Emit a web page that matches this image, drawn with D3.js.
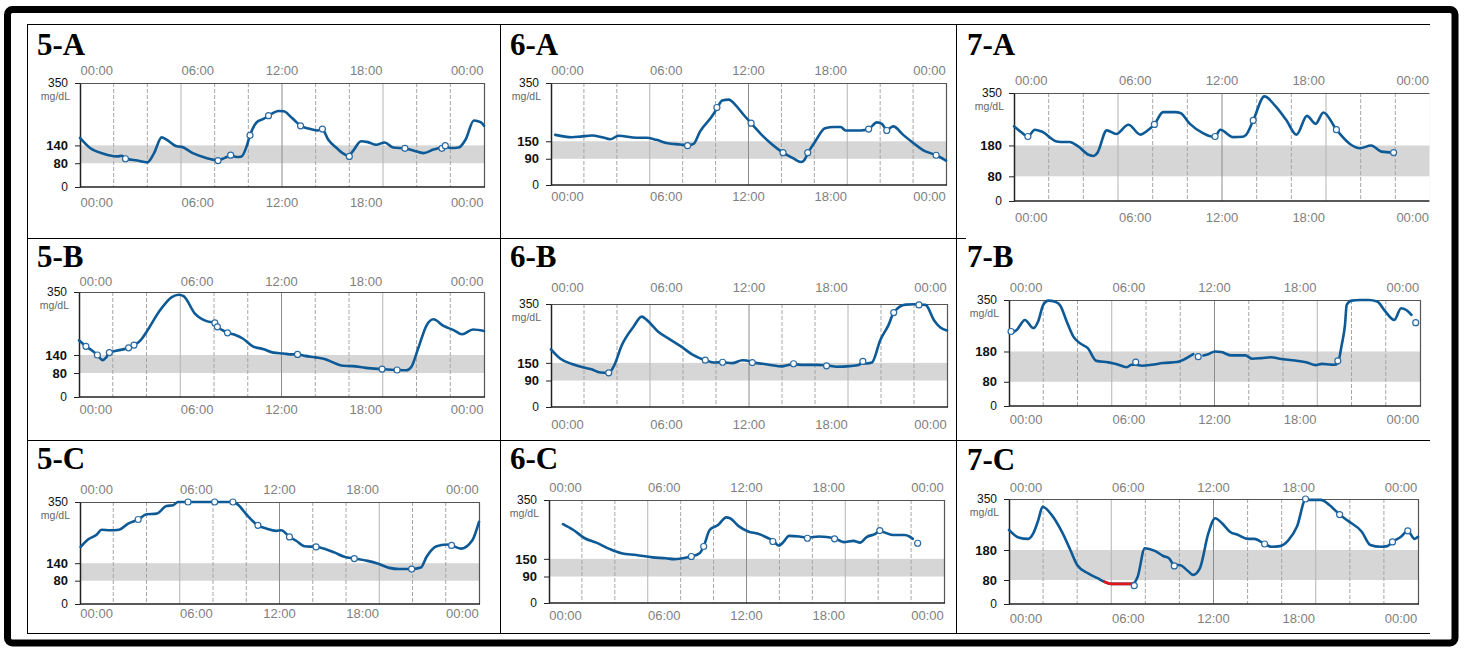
<!DOCTYPE html>
<html>
<head>
<meta charset="utf-8">
<script src="https://cdn.jsdelivr.net/npm/d3@7"></script>
<style>
    body { margin: 0; background: #fff; }
    svg { display: block; font-family: Arial, "Liberation Sans", sans-serif; }
</style>
</head>
<body>
<svg id="chart" width="1466" height="648"></svg>
<script>
// glucose traces, [hour of day, mg/dL]; null marks a gap in the sensor data
var trace5A = [[0,165],[0.6,131],[1.4,112],[2.2,103],[2.5,105],[2.7,96],[3.4,89],[4.0,83],[4.4,114],[4.85,167],[5.15,159],[5.75,137],[6.05,135],[6.7,114],[7.5,98],[8.2,90],[8.6,98],[8.95,106],[9.3,101],[9.6,103],[9.9,137],[10.1,174],[10.5,218],[10.9,229],[11.2,240],[11.8,256],[12.1,255],[12.6,232],[13.1,206],[13.7,195],[14.1,190],[14.4,193],[14.75,159],[15.25,131],[15.6,114],[15.95,105],[16.2,120],[16.7,154],[17.1,151],[17.6,142],[18.1,150],[18.6,133],[19.3,130],[19.8,123],[20.4,114],[21.0,126],[21.5,134],[21.7,137],[22.0,131],[22.5,133],[22.9,159],[23.4,224],[23.8,218],[24,206]];
var dots5A = [[2.7,95],[8.2,89],[8.95,107],[10.1,174],[11.2,240],[13.1,206],[14.4,195],[16.0,103],[19.3,130],[21.5,130],[21.7,139]];

var trace6A = [[0.26,172],[1.27,164],[1.78,166],[2.49,170],[3.1,164],[3.6,157],[4.1,169],[5.2,162],[5.8,162],[6.4,155],[7.1,143],[7.85,139],[8.3,136],[8.66,141],[9.06,184],[9.77,235],[10.08,262],[10.4,290],[10.8,293],[11.2,275],[11.7,241],[12.16,212],[12.8,172],[13.4,141],[14.1,111],[14.7,92],[15.2,79],[15.4,86],[15.6,109],[16.05,149],[16.65,195],[17.2,199],[17.6,199],[17.9,187],[18.8,187],[19.3,192],[19.8,215],[20.1,210],[20.4,190],[20.8,201],[21.4,172],[21.9,149],[22.6,120],[23.4,102],[24,84]];
var dots6A = [[8.3,135],[10.08,266],[12.16,212],[14.1,111],[15.6,111],[19.3,192],[20.4,187],[23.4,102]];

var trace7A = [[0,242],[0.44,222],[0.8,209],[1.2,231],[1.6,225],[2.46,193],[2.9,191],[3.2,191],[3.7,177],[4.3,150],[4.6,146],[4.8,155],[5.35,229],[5.9,217],[6.6,247],[7.3,215],[7.65,226],[8.1,248],[8.6,288],[9.3,288],[9.6,285],[10.15,250],[10.9,220],[11.4,209],[11.6,209],[11.9,231],[12.65,207],[13.2,208],[13.4,215],[13.8,261],[14.45,339],[15.06,309],[15.7,263],[16.3,215],[16.9,276],[17.4,250],[17.85,287],[18.6,231],[19.4,184],[19.96,171],[20.6,180],[21.2,160],[21.9,157]];
var dots7A = [[0.8,209],[8.1,248],[11.6,209],[13.8,261],[18.6,231],[21.9,157]];

var trace5B = [[0,189],[0.41,169],[0.75,156],[1.09,140],[1.4,123],[1.6,131],[1.8,148],[2.2,154],[2.94,164],[3.26,173],[3.6,186],[4.0,217],[4.8,289],[5.5,333],[5.9,341],[6.2,336],[6.87,278],[7.56,253],[8.05,247],[8.2,234],[8.5,223],[8.8,214],[9.3,206],[9.7,195],[10.3,169],[10.9,160],[11.5,148],[12.1,145],[12.6,142],[12.95,142],[13.4,137],[14.0,132],[14.6,126],[15.1,114],[15.65,104],[16.2,103],[17.0,97],[17.96,93],[18.85,90],[19.4,89],[19.7,101],[20.1,162],[20.6,239],[21.0,259],[21.6,237],[22.2,223],[22.7,209],[23.35,225],[24,220]];
var dots5B = [[0.41,169],[1.09,140],[1.8,148],[2.94,164],[3.26,173],[8.05,247],[8.2,234],[8.8,214],[12.95,142],[17.96,93],[18.85,90]];

var trace6B = [[0,196],[0.57,164],[1.27,146],[1.98,134],[2.4,129],[3.0,117],[3.5,116],[3.8,138],[4.3,211],[5.0,273],[5.5,307],[5.8,296],[6.5,256],[7.2,230],[7.9,205],[8.6,177],[9.35,159],[9.96,151],[10.4,152],[10.97,149],[11.6,159],[12.1,155],[12.2,152],[12.8,147],[13.3,143],[14.0,138],[14.4,143],[14.7,145],[15.3,143],[16.1,143],[16.7,142],[17.3,137],[18.1,139],[18.65,143],[18.9,150],[19.15,148],[19.45,151],[19.96,228],[20.46,279],[20.77,321],[21.5,348],[22.0,349],[22.3,348],[22.7,347],[23.2,296],[23.6,270],[24,260]];
var dots6B = [[3.5,116],[9.35,159],[10.4,152],[12.2,151],[14.7,147],[16.7,140],[18.9,155],[20.77,321],[22.3,347]];

var trace7B = [[0.06,240],[0.45,251],[0.93,284],[1.42,257],[1.7,279],[2.0,334],[2.3,348],[2.7,344],[3.0,331],[3.37,279],[3.76,229],[4.15,207],[4.6,191],[5.1,149],[5.8,144],[6.3,138],[6.87,128],[7.16,136],[7.4,136],[7.75,133],[8.33,136],[9.0,142],[9.8,145],[10.3,156],[10.76,171],[10.9,null],[11.35,167],[11.64,171],[12.03,180],[12.4,178],[13.0,167],[13.8,167],[14.2,156],[14.75,158],[15.3,161],[15.8,156],[16.7,150],[17.4,144],[17.9,135],[18.26,139],[18.74,137],[19.0,136],[19.2,142],[19.43,202],[19.62,268],[19.72,334],[20.0,348],[20.5,350],[21.0,350],[21.5,345],[21.95,314],[22.5,284],[22.9,323],[23.2,317],[23.5,301]];
var dots7B = [[0.12,246],[7.4,145],[11.05,163],[19.2,149],[23.75,275]];

var trace5C = [[0.04,196],[0.5,222],[1.0,238],[1.3,255],[1.8,253],[2.35,255],[2.9,276],[3.5,290],[4.0,308],[4.6,310],[5.2,336],[5.6,339],[5.9,350],[6.5,350],[7.2,350],[8.1,350],[9.2,350],[9.5,341],[10.0,308],[10.7,270],[11.2,259],[11.8,251],[12.1,253],[12.6,230],[13.0,217],[13.5,198],[14.2,196],[14.7,190],[15.3,177],[15.9,162],[16.5,156],[17.3,148],[17.9,139],[18.6,124],[19.2,120],[19.95,120],[20.5,125],[20.85,162],[21.45,198],[22.05,204],[22.35,201],[22.9,190],[23.6,219],[24,282]];
var dots5C = [[3.5,290],[6.5,350],[8.1,350],[9.2,350],[10.7,270],[12.6,230],[14.2,196],[16.5,156],[19.95,120],[22.35,201]];

var trace6C = [[0.85,268],[1.46,249],[2.17,220],[2.88,205],[3.7,183],[4.4,169],[5.3,163],[6.3,155],[7.1,152],[7.6,149],[8.1,152],[8.65,158],[9.15,169],[9.4,192],[9.76,248],[10.27,265],[10.77,291],[11.0,288],[11.5,262],[12.1,243],[12.7,235],[13.3,221],[13.6,212],[13.97,195],[14.2,205],[14.6,228],[15.2,226],[15.7,222],[16.4,226],[17.35,220],[17.9,207],[18.5,211],[18.9,205],[19.3,224],[19.8,234],[20.1,244],[20.9,231],[21.6,231],[21.9,226],[22.1,218]];
var dots6C = [[8.65,158],[9.4,192],[13.6,209],[15.7,220],[17.35,218],[20.1,246],[22.4,203]];

var trace7C = [[0,247],[0.55,222],[1.13,217],[1.43,236],[1.72,280],[1.97,324],[2.5,297],[3.1,241],[3.6,180],[4.0,130],[4.65,102],[5.2,86],[5.6,74],[6.0,67],[6.6,67],[7.1,67],[7.3,69],[7.55,91],[7.97,186],[8.56,177],[9.05,160],[9.4,152],[9.7,130],[10.0,130],[10.5,110],[10.8,97],[11.2,119],[11.7,236],[12.1,286],[12.5,269],[12.96,241],[13.45,230],[14.0,217],[14.4,217],[15.0,200],[15.4,191],[15.9,193],[16.4,213],[16.9,258],[17.4,347],[17.9,347],[18.3,347],[18.8,330],[19.4,298],[19.9,277],[20.7,241],[21.2,197],[21.8,191],[22.2,193],[22.5,207],[23.0,224],[23.4,244],[23.8,217],[24,224]];
var dots7C = [[7.35,61],[9.7,127],[15.0,200],[17.4,350],[19.4,298],[22.5,207],[23.4,244]];
var low7C = [5.6, 7.3];   // stretch drawn in red (below range)

// target ranges and y ticks per column
var target5 = [80, 140], target6 = [90, 150], target7 = [80, 180];
var yTicks5 = [0, 80, 140, 350], yTicks6 = [0, 90, 150, 350], yTicks7 = [0, 80, 180, 350];

// time axis
var timeLabels = ["00:00", "06:00", "12:00", "18:00", "00:00"];
var timeLabelHours = [1, 7, 12, 17, 23];
var gridHours = [2, 4, 6, 8, 10, 12, 14, 16, 18, 20, 22];

var panels = [
    {name: "5-A", trace: trace5A, dots: dots5A, target: target5, ticks: yTicks5, x0: 80, x1: 484, y0: 83, y1: 187, tx: 37, ty: 55, topY: 75, botY: 207},
    {name: "6-A", trace: trace6A, dots: dots6A, target: target6, ticks: yTicks6, x0: 551, x1: 946, y0: 83, y1: 185, tx: 510, ty: 55, topY: 75, botY: 201},
    {name: "7-A", trace: trace7A, dots: dots7A, target: target7, ticks: yTicks7, x0: 1014, x1: 1430, y0: 93, y1: 201, tx: 967, ty: 55, topY: 85, botY: 222, clip: true},
    {name: "5-B", trace: trace5B, dots: dots5B, target: target5, ticks: yTicks5, x0: 79, x1: 484, y0: 292, y1: 397, tx: 37, ty: 267, topY: 286, botY: 414},
    {name: "6-B", trace: trace6B, dots: dots6B, target: target6, ticks: yTicks6, x0: 551, x1: 947, y0: 304, y1: 407, tx: 510, ty: 267, topY: 292, botY: 429},
    {name: "7-B", trace: trace7B, dots: dots7B, target: target7, ticks: yTicks7, x0: 1009, x1: 1420, y0: 300, y1: 406, tx: 967, ty: 267, topY: 292, botY: 424},
    {name: "5-C", trace: trace5C, dots: dots5C, target: target5, ticks: yTicks5, x0: 80, x1: 479, y0: 502, y1: 604, tx: 37, ty: 469, topY: 494, botY: 618},
    {name: "6-C", trace: trace6C, dots: dots6C, target: target6, ticks: yTicks6, x0: 549, x1: 944, y0: 500, y1: 603, tx: 510, ty: 469, topY: 492, botY: 620},
    {name: "7-C", trace: trace7C, dots: dots7C, target: target7, ticks: yTicks7, x0: 1009, x1: 1418, y0: 499, y1: 604, tx: 967, ty: 470, topY: 492, botY: 623, low: low7C}
];

var lineColor = "#0d5a96";
var svg = d3.select("#chart");

svg.append("defs").append("clipPath").attr("id", "col7clip")
    .append("rect").attr("x", 950).attr("y", 0).attr("width", 479.4).attr("height", 648);

// outer frame
svg.append("rect")
    .attr("x", 7.5).attr("y", 9.5)
    .attr("width", 1447.5).attr("height", 633.5)
    .attr("rx", 5)
    .attr("fill", "none")
    .attr("stroke", "#000")
    .attr("stroke-width", 7);

// cell borders
var hLines = [[27, 1430, 24], [27, 966, 238], [27, 1430, 440], [27, 1430, 633]];
var vLines = [27, 500, 956];
svg.selectAll(".hline").data(hLines).enter().append("line")
    .attr("x1", function (d) { return d[0]; })
    .attr("x2", function (d) { return d[1]; })
    .attr("y1", function (d) { return d[2] + 0.5; })
    .attr("y2", function (d) { return d[2] + 0.5; })
    .attr("stroke", "#000");
svg.selectAll(".vline").data(vLines).enter().append("line")
    .attr("x1", function (d) { return d + 0.5; })
    .attr("x2", function (d) { return d + 0.5; })
    .attr("y1", 24).attr("y2", 634)
    .attr("stroke", "#000");

panels.forEach(function (p) {
    var g = svg.append("g");
    if (p.clip) g.attr("clip-path", "url(#col7clip)");

    var x = d3.scaleLinear().domain([0, 24]).range([p.x0, p.x1]);
    var y = d3.scaleLinear().domain([0, 350]).range([p.y1, p.y0]);

    g.append("text")
        .attr("x", p.tx).attr("y", p.ty)
        .style("font-family", "'Liberation Serif', 'Times New Roman', serif")
        .style("font-weight", "bold")
        .style("font-size", "31px")
        .text(p.name);

    // target band
    g.append("rect")
        .attr("x", p.x0).attr("width", p.x1 - p.x0)
        .attr("y", y(p.target[1]))
        .attr("height", y(p.target[0]) - y(p.target[1]))
        .attr("fill", "#d6d6d6");

    // 2h grid
    g.selectAll(".grid").data(gridHours).enter().append("line")
        .attr("x1", function (d) { return x(d); })
        .attr("x2", function (d) { return x(d); })
        .attr("y1", p.y0).attr("y2", p.y1)
        .attr("stroke", function (d) {
            if (d === 12) return "#8c8c8c";
            return d % 6 === 0 ? "#b4b4b4" : "#a6a6a6";
        })
        .attr("stroke-width", 1)
        .attr("stroke-dasharray", function (d) { return d % 6 === 0 ? null : "4,2"; });

    // top and right frame
    g.append("path")
        .attr("d", "M" + p.x0 + "," + (p.y0 + 0.5) + "H" + (p.x1 + 0.5) + "V" + p.y1)
        .attr("fill", "none")
        .attr("stroke", "#555")
        .attr("stroke-width", 1.2);

    // y axis
    var yAxis = g.append("g")
        .attr("transform", "translate(" + p.x0 + ",0)")
        .call(d3.axisLeft(y).tickValues(p.ticks).tickSize(5).tickSizeOuter(0).tickPadding(7));
    yAxis.select(".domain").attr("stroke", "#222").attr("stroke-width", 1.5);
    yAxis.selectAll(".tick line").attr("stroke", "#222");
    yAxis.selectAll(".tick text")
        .attr("fill", "#111")
        .style("font-family", "Arial, 'Liberation Sans', sans-serif")
        .style("font-size", function (d) { return (d === 0 || d === 350) ? "12px" : "13px"; })
        .style("font-weight", function (d) { return (d === 0 || d === 350) ? "normal" : "bold"; });

    // bottom axis line
    g.append("line")
        .attr("x1", p.x0).attr("x2", p.x1 + 1)
        .attr("y1", p.y1).attr("y2", p.y1)
        .attr("stroke", "#222").attr("stroke-width", 1.5);

    g.append("text")
        .attr("x", p.x0 - 10).attr("y", p.y0 + 17)
        .attr("text-anchor", "end")
        .attr("fill", "#666")
        .style("font-size", "10.5px")
        .text("mg/dL");

    // time labels, top and bottom
    [p.topY, p.botY].forEach(function (ly) {
        g.selectAll(null).data(timeLabelHours).enter().append("text")
            .attr("x", function (d) { return x(d); })
            .attr("y", ly)
            .attr("text-anchor", "middle")
            .attr("fill", "#808080")
            .style("font-size", "13px")
            .text(function (d, i) { return timeLabels[i]; });
    });

    var line = d3.line()
        .defined(function (d) { return d[1] !== null; })
        .x(function (d) { return x(d[0]); })
        .y(function (d) { return y(d[1]); })
        .curve(d3.curveMonotoneX);

    g.append("path")
        .datum(p.trace)
        .attr("d", line)
        .attr("fill", "none")
        .attr("stroke", lineColor)
        .attr("stroke-width", 2.6)
        .attr("stroke-linejoin", "round")
        .attr("stroke-linecap", "round");

    if (p.low) {
        g.append("path")
            .datum(p.trace.filter(function (d) { return d[0] >= p.low[0] && d[0] <= p.low[1]; }))
            .attr("d", line)
            .attr("fill", "none")
            .attr("stroke", "#e0161b")
            .attr("stroke-width", 2.6)
            .attr("stroke-linecap", "round");
    }

    g.selectAll(".dot").data(p.dots).enter().append("circle")
        .attr("cx", function (d) { return x(d[0]); })
        .attr("cy", function (d) { return y(d[1]); })
        .attr("r", 3)
        .attr("fill", "#fff")
        .attr("stroke", "#2a6aa3")
        .attr("stroke-width", 1.2);
});
</script>
</body>
</html>
